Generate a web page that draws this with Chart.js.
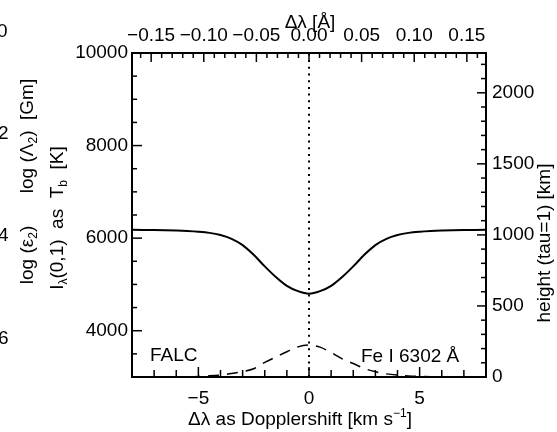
<!DOCTYPE html>
<html>
<head>
<meta charset="utf-8">
<script src="https://cdn.jsdelivr.net/npm/chart.js@4.4.1/dist/chart.umd.min.js"></script>
<style>
  html, body { margin: 0; padding: 0; background: #fff; }
  #wrap { width: 557px; height: 432px; }
</style>
</head>
<body>
<div id="wrap"><canvas id="chart" width="557" height="432"></canvas></div>
<script>
// Doppler velocity grid [km/s]
const vel = [-8, -7.5, -7, -6.5, -6, -5.5, -5, -4.5, -4, -3.5, -3, -2.5, -2, -1.5, -1, -0.5, 0,
             0.5, 1, 1.5, 2, 2.5, 3, 3.5, 4, 4.5, 5, 5.5, 6, 6.5, 7, 7.5, 8];
// brightness temperature of the emergent intensity [K]
const tempB = [6180, 6178, 6176, 6172, 6166, 6156, 6140, 6114, 6066, 5985, 5850, 5640, 5390, 5160, 4970, 4855, 4800,
               4855, 4970, 5160, 5390, 5640, 5850, 5985, 6066, 6114, 6140, 6156, 6166, 6172, 6176, 6178, 6180];
// height of tau=1 [km]
const tauHeight = [0, 0, 0, 0, 1, 2, 4, 8, 14, 24, 38, 58, 103, 140, 178, 212, 225,
                   210, 172, 128, 95, 60, 37, 22, 13, 7, 4, 2, 1, 0, 0, 0, 0];

const velTicks = [-5, 0, 5];
const lamTicks = [-0.15, -0.10, -0.05, 0.00, 0.05, 0.10, 0.15];
const tempTicks = [4000, 6000, 8000, 10000];
const heightTicks = [0, 500, 1000, 1500, 2000];

const lamMax = 0.1682;   // 8 km/s at 6302 A
const FF = '"Liberation Sans", Arial, sans-serif';
const FS = 19;

const minus = v => String(v).replace('-', '\u2212');

function pts(xs, ys) { return xs.map((x, i) => ({x: x, y: ys[i]})); }

function richText(ctx, parts, x, y, rot) {
  ctx.save();
  ctx.translate(x, y);
  ctx.rotate(rot);
  const small = Math.round(FS * 0.62);
  let w = 0;
  parts.forEach(p => { ctx.font = (p.s ? small : FS) + 'px ' + FF; w += ctx.measureText(p.t).width; });
  let cx = -w / 2;
  ctx.textAlign = 'left';
  ctx.textBaseline = 'alphabetic';
  ctx.fillStyle = '#000';
  parts.forEach(p => {
    ctx.font = (p.s ? small : FS) + 'px ' + FF;
    const dy = p.s === -1 ? FS * 0.22 : (p.s === 1 ? -FS * 0.42 : 0);
    ctx.fillText(p.t, cx, FS * 0.36 + dy);
    cx += ctx.measureText(p.t).width;
  });
  ctx.restore();
}

// inward tick marks like the IDL original
const tickPlugin = {
  id: 'inTicks',
  afterDraw(chart) {
    const ctx = chart.ctx, s = chart.scales, a = chart.chartArea;
    ctx.save();
    ctx.strokeStyle = '#000';
    ctx.lineWidth = 1.5;
    function hTick(sc, v, len, fromLeft) {
      const y = sc.getPixelForValue(v);
      ctx.beginPath();
      if (fromLeft) { ctx.moveTo(a.left, y); ctx.lineTo(a.left + len, y); }
      else { ctx.moveTo(a.right, y); ctx.lineTo(a.right - len, y); }
      ctx.stroke();
    }
    function vTick(sc, v, len, fromBottom) {
      const x = sc.getPixelForValue(v);
      ctx.beginPath();
      if (fromBottom) { ctx.moveTo(x, a.bottom); ctx.lineTo(x, a.bottom - len); }
      else { ctx.moveTo(x, a.top); ctx.lineTo(x, a.top + len); }
      ctx.stroke();
    }
    for (let v = 3500; v < 10000; v += 500) hTick(s.y, v, v % 2000 === 0 ? 10 : 5, true);
    for (let v = 100; v < 2280; v += 100) hTick(s.y2, v, v % 500 === 0 ? 9 : 5, false);
    for (let v = -7; v <= 7; v += 1) vTick(s.x, v, v % 5 === 0 ? 10 : 7, true);
    for (let k = -16; k <= 16; k++) vTick(s.xTop, k / 100, k % 5 === 0 ? 9 : 5, false);
    ctx.restore();
  }
};

const textPlugin = {
  id: 'labels',
  afterDraw(chart) {
    const ctx = chart.ctx;
    const up = -Math.PI / 2;
    richText(ctx, [{t: 'log (\u039B'}, {t: '2', s: -1}, {t: ')  [Gm]'}], 26, 136, up);
    richText(ctx, [{t: 'log (\u03B5'}, {t: '2', s: -1}, {t: ')'}], 26, 255, up);
    richText(ctx, [{t: 'I'}, {t: '\u03BB', s: -1}, {t: '(0,1)  as  T'}, {t: 'b', s: -1}, {t: '  [K]'}], 56, 218, up);
    richText(ctx, [{t: 'height (tau=1) [km]'}], 543, 243, up);
    richText(ctx, [{t: '\u0394\u03BB [\u00C5]'}], 310, 21, 0);
    richText(ctx, [{t: '\u0394\u03BB as Dopplershift [km s'}, {t: '\u22121', s: 1}, {t: ']'}], 300, 418, 0);
    ctx.save();
    ctx.fillStyle = '#000';
    ctx.font = FS + 'px ' + FF;
    ctx.textBaseline = 'middle';
    ctx.textAlign = 'left';
    ctx.fillText('FALC', 150, 356);
    ctx.fillText('Fe I 6302 \u00C5', 361, 357);
    // cut-off labels of the neighbouring panel
    ctx.fillText('0', -3, 32);
    ctx.fillText('2', -2, 134);
    ctx.fillText('4', -2, 236);
    ctx.fillText('6', -2, 339);
    ctx.restore();
  }
};

const axisBase = {
  border: {display: true, color: '#000', width: 2},
  grid: {display: true, drawOnChartArea: false, drawTicks: false},
};

new Chart(document.getElementById('chart'), {
  type: 'line',
  data: {
    datasets: [
      {
        data: pts(vel, tempB), xAxisID: 'x', yAxisID: 'y',
        borderColor: '#000', borderWidth: 2, pointRadius: 0,
        cubicInterpolationMode: 'monotone'
      },
      {
        data: pts(vel, tauHeight), xAxisID: 'x', yAxisID: 'y2',
        borderColor: '#000', borderWidth: 1.5, pointRadius: 0,
        borderDash: [11, 8], cubicInterpolationMode: 'monotone'
      },
      {
        data: [{x: 0, y: 3000}, {x: 0, y: 10000}], xAxisID: 'x', yAxisID: 'y',
        borderColor: '#000', borderWidth: 2, pointRadius: 0,
        borderDash: [2, 4.7]
      }
    ]
  },
  options: {
    responsive: false,
    animation: false,
    layout: {padding: 0},
    plugins: {legend: {display: false}, tooltip: {enabled: false}},
    scales: {
      x: Object.assign({}, axisBase, {
        type: 'linear', position: 'bottom', min: -8, max: 8,
        afterBuildTicks: sc => { sc.ticks = velTicks.map(v => ({value: v})); },
        afterFit: sc => { sc.height = 55; },
        ticks: {color: '#000', padding: 10, font: {family: FF, size: FS}, maxRotation: 0,
                callback: v => minus(v)}
      }),
      xTop: Object.assign({}, axisBase, {
        type: 'linear', position: 'top', min: -lamMax, max: lamMax,
        afterBuildTicks: sc => { sc.ticks = lamTicks.map(v => ({value: v})); },
        afterFit: sc => { sc.height = 53; },
        ticks: {color: '#000', padding: 6, font: {family: FF, size: FS}, maxRotation: 0, autoSkip: false,
                callback: v => minus(v.toFixed(2))}
      }),
      y: Object.assign({}, axisBase, {
        type: 'linear', position: 'left', min: 3000, max: 10000,
        afterBuildTicks: sc => { sc.ticks = tempTicks.map(v => ({value: v})); },
        afterFit: sc => { sc.width = 132; },
        ticks: {color: '#000', padding: 4, font: {family: FF, size: FS}, callback: v => String(v)}
      }),
      y2: Object.assign({}, axisBase, {
        type: 'linear', position: 'right', min: 0, max: 2280,
        afterBuildTicks: sc => { sc.ticks = heightTicks.map(v => ({value: v})); },
        afterFit: sc => { sc.width = 71; },
        ticks: {color: '#000', padding: 6, font: {family: FF, size: FS}, callback: v => String(v)}
      })
    }
  },
  plugins: [tickPlugin, textPlugin]
});
</script>
</body>
</html>
